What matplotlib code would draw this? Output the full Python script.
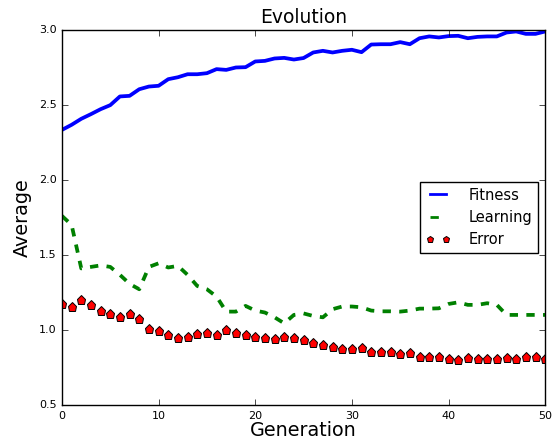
import matplotlib
matplotlib.use('Agg')
import matplotlib.pyplot as plt

generations = list(range(51))

fitness = [2.333, 2.367, 2.407, 2.438, 2.471, 2.498, 2.556, 2.560, 2.604, 2.622,
           2.627, 2.671, 2.684, 2.704, 2.704, 2.711, 2.738, 2.733, 2.749, 2.751,
           2.789, 2.793, 2.809, 2.813, 2.802, 2.812, 2.849, 2.860, 2.849, 2.860,
           2.867, 2.851, 2.902, 2.904, 2.904, 2.918, 2.904, 2.944, 2.956, 2.949,
           2.958, 2.960, 2.944, 2.953, 2.956, 2.956, 2.982, 2.989, 2.973, 2.973,
           2.989]

learning = [1.760, 1.700, 1.410, 1.420, 1.430, 1.420, 1.367, 1.307, 1.271, 1.420,
            1.444, 1.416, 1.427, 1.367, 1.293, 1.271, 1.222, 1.122, 1.122, 1.160,
            1.129, 1.116, 1.084, 1.044, 1.100, 1.110, 1.093, 1.084, 1.138, 1.156,
            1.156, 1.151, 1.129, 1.124, 1.124, 1.122, 1.129, 1.142, 1.142, 1.144,
            1.173, 1.184, 1.167, 1.167, 1.178, 1.167, 1.100, 1.100, 1.100, 1.100,
            1.100]

error = [1.175, 1.151, 1.200, 1.169, 1.127, 1.104, 1.087, 1.104, 1.076, 1.007,
         0.993, 0.964, 0.947, 0.953, 0.976, 0.978, 0.969, 1.000, 0.980, 0.964,
         0.951, 0.949, 0.940, 0.951, 0.949, 0.930, 0.911, 0.900, 0.887, 0.871,
         0.871, 0.882, 0.853, 0.853, 0.853, 0.842, 0.849, 0.822, 0.818, 0.822,
         0.807, 0.798, 0.816, 0.809, 0.807, 0.804, 0.811, 0.809, 0.818, 0.818,
         0.807]

plt.style.use('classic')
fig = plt.figure(figsize=(5.58, 4.45), dpi=100, facecolor='white')
ax = fig.add_axes([0.111, 0.09, 0.866, 0.843])

ax.plot(generations, fitness, 'b-', lw=2.7, label='Fitness')
ax.plot(generations, learning, 'g--', lw=2.7, label='Learning')
ax.plot(generations, error, 'rp', ls='none', ms=6.5, mec='black', mew=0.7, label='Error')

ax.set_xlim(0, 50)
ax.set_ylim(0.5, 3.0)
ax.tick_params(labelsize=8)
ax.set_title('Evolution', fontsize=13.5)
ax.set_xlabel('Generation', fontsize=13.8, labelpad=0)
ax.set_ylabel('Average', fontsize=13.8)

leg = ax.legend(loc='center right', numpoints=2, fontsize=10.5, handlelength=1.7,
                handletextpad=1.2, markerscale=0.75)
for line in leg.get_lines():
    line.set_linewidth(2)

fig.savefig('out.png', dpi=100, facecolor='white')
